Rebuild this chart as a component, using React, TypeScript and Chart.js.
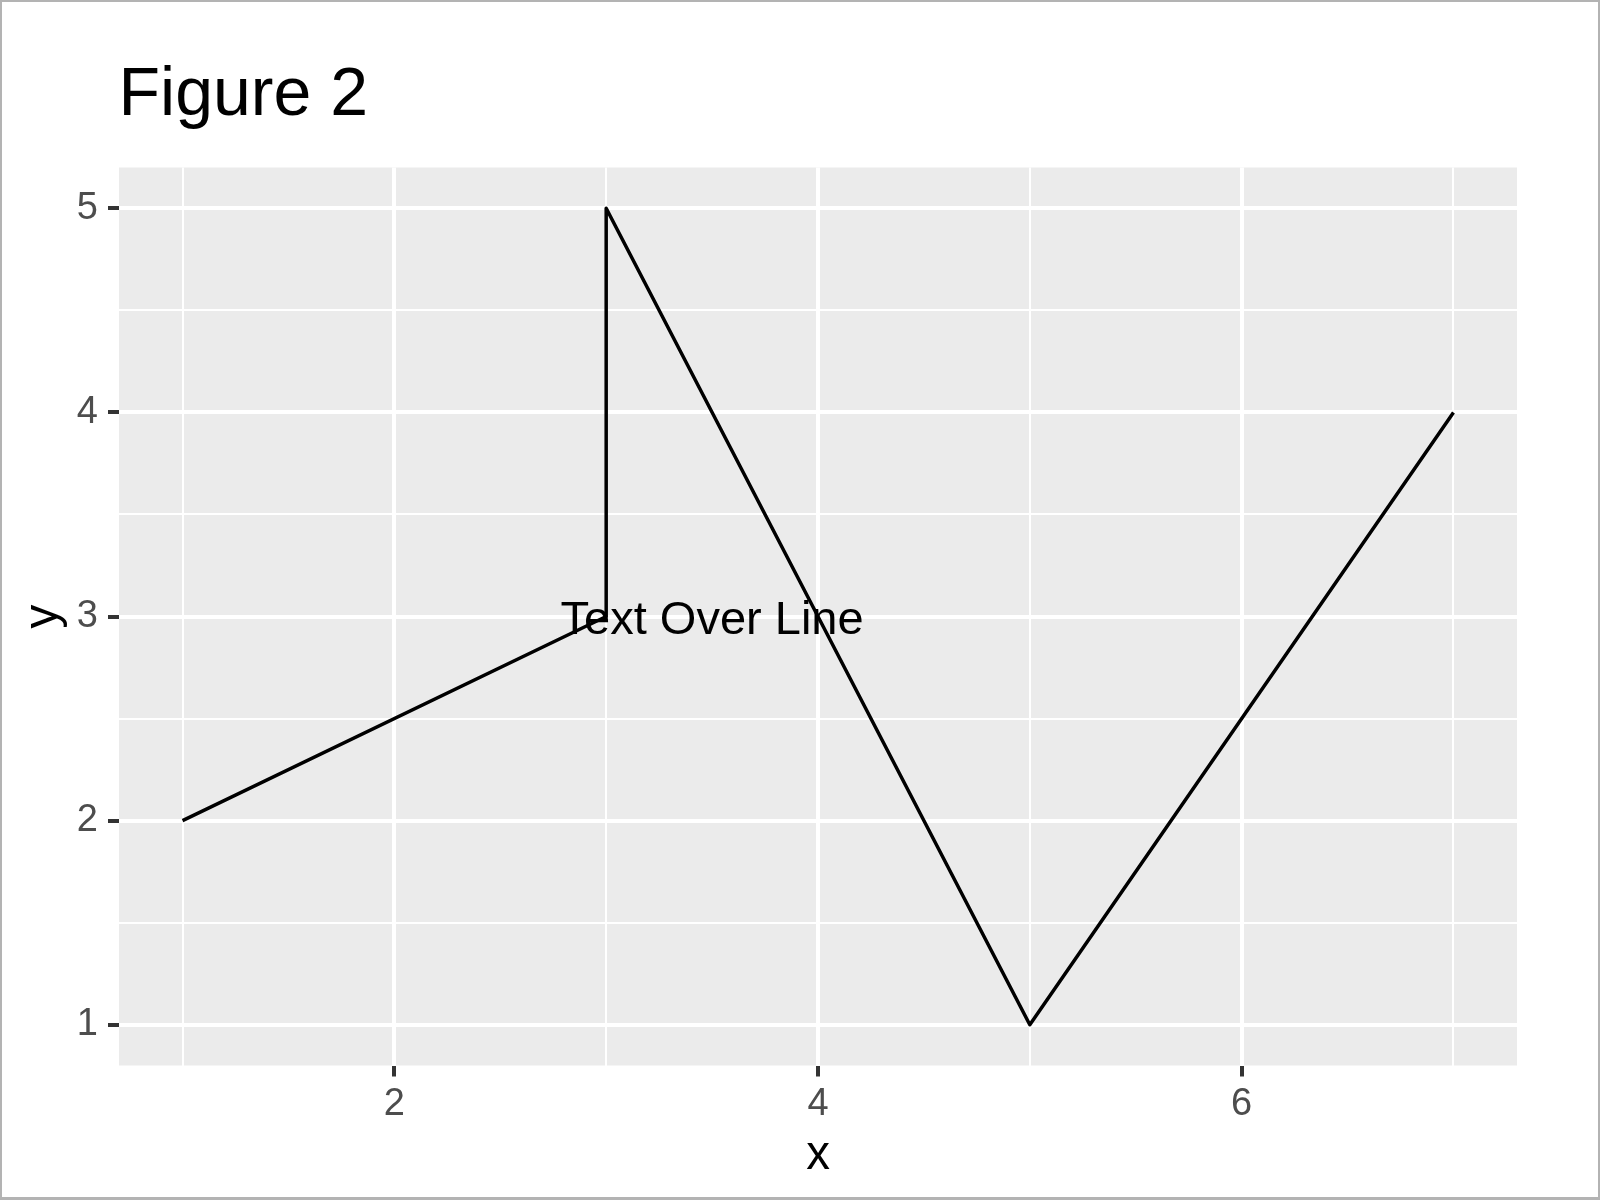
import React, { useEffect, useRef } from 'react';
import { Chart, registerables } from 'chart.js';

Chart.register(...registerables);

// ---- data ----
const xValues = [1, 3, 3, 5, 7];
const yValues = [2, 3, 5, 1, 4];
const xMajorTicks = [2, 4, 6];
const yMajorTicks = [1, 2, 3, 4, 5];
const xLimits = [0.7, 7.3];
const yLimits = [0.8, 5.2];
const chartTitle = 'Figure 2';
const xAxisTitle = 'x';
const yAxisTitle = 'y';
const annotationText = 'Text Over Line';
const annotationX = 3.5;
const annotationY = 3;

const FONT = '"Liberation Sans", Arial, Helvetica, sans-serif';
const PANEL_BG = '#EBEBEB';
const GRID = '#FFFFFF';
const TICK_MARK = '#333333';
const TICK_TEXT = '#4D4D4D';

const isMajor = (v: number, majors: number[]) => majors.some((m) => Math.abs(m - v) < 1e-9);

const decorPlugin = {
  id: 'ggDecor',
  beforeDraw(chart: any) {
    const { ctx, chartArea: a, width, height } = chart;
    ctx.save();
    ctx.fillStyle = '#FFFFFF';
    ctx.fillRect(0, 0, width, height);
    ctx.fillStyle = PANEL_BG;
    ctx.fillRect(a.left, a.top, a.right - a.left, a.bottom - a.top);
    ctx.restore();
  },
  afterDatasetsDraw(chart: any) {
    const { ctx } = chart;
    const px = chart.scales.x.getPixelForValue(annotationX);
    const py = chart.scales.y.getPixelForValue(annotationY);
    ctx.save();
    ctx.font = `47px ${FONT}`;
    ctx.fillStyle = '#000000';
    ctx.textAlign = 'center';
    ctx.textBaseline = 'middle';
    ctx.fillText(annotationText, px, py + 5);
    ctx.restore();
  },
  afterDraw(chart: any) {
    const { ctx, chartArea: a, width, height } = chart;
    ctx.save();
    ctx.font = `68px ${FONT}`;
    ctx.fillStyle = '#000000';
    ctx.textAlign = 'left';
    ctx.textBaseline = 'alphabetic';
    ctx.fillText(chartTitle, a.left - 0.5, 115);
    ctx.fillStyle = '#B3B3B3';
    ctx.fillRect(0, 0, width, 2);
    ctx.fillRect(0, 0, 2, height);
    ctx.fillRect(width - 2, 0, 2, height);
    ctx.fillRect(0, height - 3, width, 3);
    ctx.restore();
  },
};

export default function App() {
  const canvasRef = useRef<HTMLCanvasElement | null>(null);

  useEffect(() => {
    const canvas = canvasRef.current;
    if (!canvas) return;
    const chart = new Chart(canvas, {
      type: 'line',
      data: {
        datasets: [
          {
            data: xValues.map((x, i) => ({ x, y: yValues[i] })),
            borderColor: '#000000',
            borderWidth: 3.5,
            borderJoinStyle: 'round',
            borderCapStyle: 'butt',
            pointRadius: 0,
            pointHoverRadius: 0,
            fill: false,
            tension: 0,
          },
        ],
      },
      options: {
        responsive: false,
        animation: false,
        devicePixelRatio: 1,
        events: [],
        layout: { padding: { top: 167.5, right: 83, bottom: 0, left: 0 } },
        plugins: {
          legend: { display: false },
          title: { display: false },
          tooltip: { enabled: false },
        },
        scales: {
          x: {
            type: 'linear',
            min: xLimits[0],
            max: xLimits[1],
            afterFit: (scale: any) => {
              scale.height = 134.5;
            },
            border: { display: false },
            grid: {
              color: GRID,
              lineWidth: (ctx: any) => (ctx.tick && isMajor(ctx.tick.value, xMajorTicks) ? 4 : 2),
              drawTicks: true,
              tickLength: 11,
              tickWidth: 4,
              tickColor: (ctx: any) =>
                ctx.tick && isMajor(ctx.tick.value, xMajorTicks) ? TICK_MARK : 'rgba(0,0,0,0)',
            },
            ticks: {
              stepSize: 1,
              includeBounds: false,
              autoSkip: false,
              maxRotation: 0,
              padding: 5.5,
              color: TICK_TEXT,
              font: { family: FONT, size: 38 },
              callback: (v: any) => (isMajor(Number(v), xMajorTicks) ? String(v) : ''),
            },
            title: {
              display: true,
              text: xAxisTitle,
              color: '#000000',
              font: { family: FONT, size: 47.5 },
              padding: { top: 0, bottom: 16 },
            },
          },
          y: {
            type: 'linear',
            min: yLimits[0],
            max: yLimits[1],
            afterFit: (scale: any) => {
              scale.width = 119;
            },
            border: { display: false },
            grid: {
              color: GRID,
              lineWidth: (ctx: any) => (ctx.tick && isMajor(ctx.tick.value, yMajorTicks) ? 4 : 2),
              drawTicks: true,
              tickLength: 11,
              tickWidth: 4,
              tickColor: (ctx: any) =>
                ctx.tick && isMajor(ctx.tick.value, yMajorTicks) ? TICK_MARK : 'rgba(0,0,0,0)',
            },
            ticks: {
              stepSize: 0.5,
              includeBounds: false,
              autoSkip: false,
              padding: 10,
              color: TICK_TEXT,
              font: { family: FONT, size: 38 },
              callback: (v: any) => (isMajor(Number(v), yMajorTicks) ? String(v) : ''),
            },
            title: {
              display: true,
              text: yAxisTitle,
              color: '#000000',
              font: { family: FONT, size: 47.5 },
              padding: { top: 15.5, bottom: 0 },
            },
          },
        },
      },
      plugins: [decorPlugin],
    } as any);
    return () => chart.destroy();
  }, []);

  return (
    <div style={{ position: 'absolute', left: 0, top: 0, width: 1600, height: 1200 }}>
      <canvas ref={canvasRef} width={1600} height={1200} style={{ display: 'block', width: 1600, height: 1200 }} />
    </div>
  );
}
